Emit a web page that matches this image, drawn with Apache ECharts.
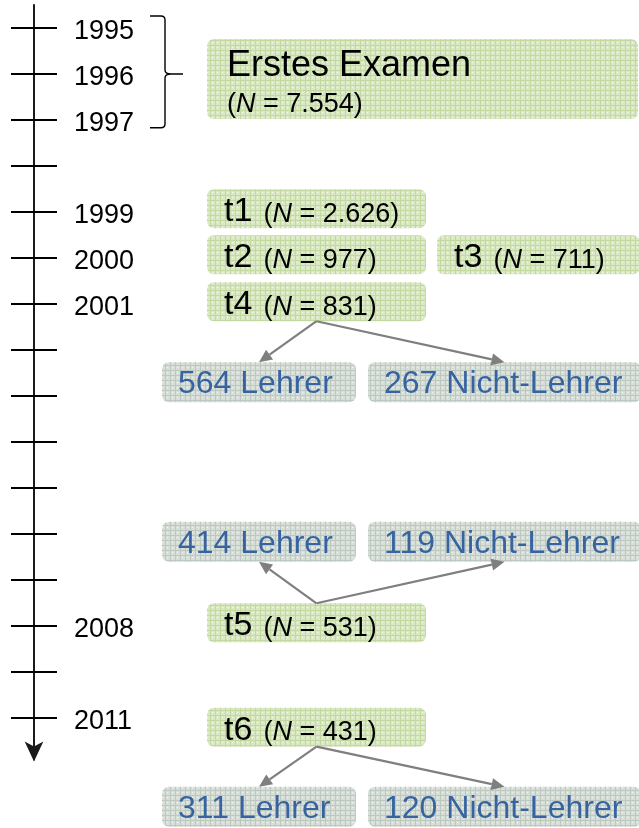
<!DOCTYPE html>
<html><head><meta charset="utf-8">
<script src="https://cdn.jsdelivr.net/npm/echarts@6/dist/echarts.min.js"></script>
<style>html,body{margin:0;padding:0;background:#fff}#c{width:639px;height:828px}</style>
</head><body><div id="c"></div>
<script>
// ---------- data ----------
const tickLabels = ['1995','1996','1997','','1999','2000','2001','','','','','','','2008','','2011'];
const firstExamTitle = 'Erstes Examen';
const firstExamN = '7.554';
const waveNames = ['t1','t2','t3','t4','t5','t6'];
const waveN = ['2.626','977','711','831','531','431'];
const splitSource = [3, 4, 5];          // index into waveNames (t4, t5, t6)
const lehrerN = [564, 414, 311];
const nichtLehrerN = [267, 119, 120];

// ---------- layout (positions / sizes / styles) ----------
const FONT = '"Liberation Sans", Arial, sans-serif';
const tickIndex = tickLabels.map((_, i) => i);
const layout = {
  firstExam: {row: 1.11, x0: 173, x1: 604, h: 80},
  waveRow: [3.93, 4.93, 4.93, 5.95, 12.93, 15.2],
  waveCol: [0, 0, 1, 0, 0, 0],
  waveCols: [[173, 392], [403, 606]],
  waveH: 39,
  splitRow: [7.7, 11.17, 16.93],
  splitCols: [[128, 322], [334, 607]],
  splitH: 40,
  bracket: {top: -0.26, mid: 1, bot: 2.17, x0: 116, x1: 131, tip: 149}
};

function makePattern(base, line, dot) {
  const c = document.createElement('canvas');
  c.width = 5; c.height = 5;
  const g = c.getContext('2d');
  g.fillStyle = base; g.fillRect(0, 0, 5, 5);
  g.fillStyle = line; g.fillRect(0, 0, 5, 1); g.fillRect(0, 0, 1, 5);
  g.fillStyle = dot; g.fillRect(2, 2, 1, 1);
  return {image: c, repeat: 'repeat'};
}
const greenFill = makePattern('#dae8c6', '#c2d9a0', '#f6faf0');
const blueFill = makePattern('#d8dfd9', '#bdc8c0', '#f3f5f3');
const blueText = '#3764a0';
const arrowColor = '#7f7f7f';

function boxRect(api, x0, x1, row, h) {
  const p0 = api.coord([x0, row]);
  const p1 = api.coord([x1, row]);
  return {x: p0[0], y: p0[1] - h / 2, width: p1[0] - p0[0], height: h, r: 7};
}
const nRich = {
  a: {fontSize: 34, fontFamily: FONT, fill: '#000', verticalAlign: 'bottom'},
  p: {fontSize: 27, fontFamily: FONT, fill: '#000', verticalAlign: 'bottom', padding: [0, 0, 1, 0]},
  i: {fontSize: 27, fontFamily: FONT, fontStyle: 'italic', fill: '#000', verticalAlign: 'bottom', padding: [0, 0, 1, 0]},
  s: {fontSize: 20, fontFamily: FONT, fill: '#000', verticalAlign: 'bottom'}
};
function nText(n) { return '{p|(}{i|N}{p| = ' + n + ')}'; }

function greenItem(params, api) {
  const i = api.value(0);
  if (i === 0) {
    const L = layout.firstExam;
    const s = boxRect(api, L.x0, L.x1, L.row, L.h);
    return {type: 'group', children: [
      {type: 'rect', shape: s, style: {fill: greenFill}},
      {type: 'text', x: s.x + 20, y: s.y + 27, style: {text: firstExamTitle, font: '36px ' + FONT, fill: '#000', verticalAlign: 'middle'}},
      {type: 'text', x: s.x + 20, y: s.y + 66, style: {text: nText(firstExamN), rich: nRich, verticalAlign: 'middle'}}
    ]};
  }
  const w = i - 1;
  const col = layout.waveCols[layout.waveCol[w]];
  const s = boxRect(api, col[0], col[1], layout.waveRow[w], layout.waveH);
  return {type: 'group', children: [
    {type: 'rect', shape: s, style: {fill: greenFill}},
    {type: 'text', x: s.x + 17, y: s.y + s.height / 2 + 3, style: {text: '{a|' + waveNames[w] + '}{s|  }' + nText(waveN[w]), rich: nRich, verticalAlign: 'middle', font: '24px ' + FONT}}
  ]};
}

function blueItem(params, api) {
  const k = api.value(0);
  const side = api.value(1);
  const col = layout.splitCols[side];
  const s = boxRect(api, col[0], col[1], layout.splitRow[k], layout.splitH);
  const txt = side === 0 ? lehrerN[k] + ' Lehrer' : nichtLehrerN[k] + ' Nicht-Lehrer';
  return {type: 'group', children: [
    {type: 'rect', shape: s, style: {fill: blueFill}},
    {type: 'text', x: s.x + 16, y: s.y + s.height / 2 + 2, style: {text: txt, font: '32px ' + FONT, fill: blueText, verticalAlign: 'middle'}}
  ]};
}

function arrowItem(params, api) {
  const k = api.value(0);
  const side = api.value(1);
  const w = splitSource[k];
  const wc = layout.waveCols[layout.waveCol[w]];
  const wRow = layout.waveRow[w];
  const sRow = layout.splitRow[k];
  const down = sRow > wRow;
  const src = api.coord([(wc[0] + wc[1]) / 2, wRow]);
  src[1] += (down ? 1 : -1) * layout.waveH / 2;
  const sc = layout.splitCols[side];
  const dst = api.coord([(sc[0] + sc[1]) / 2, sRow]);
  dst[1] += (down ? -1 : 1) * layout.splitH / 2;
  const dx = dst[0] - src[0], dy = dst[1] - src[1];
  const len = Math.sqrt(dx * dx + dy * dy);
  const ux = dx / len, uy = dy / len;
  const hl = 13, hw = 6;
  const bx = dst[0] - ux * hl, by = dst[1] - uy * hl;
  return {type: 'group', children: [
    {type: 'line', shape: {x1: src[0], y1: src[1], x2: bx, y2: by}, style: {stroke: arrowColor, lineWidth: 2.2}},
    {type: 'polygon', shape: {points: [[dst[0], dst[1]], [bx - uy * hw, by + ux * hw], [bx + uy * hw, by - ux * hw]]}, style: {fill: arrowColor}}
  ]};
}

function bracketItem(params, api) {
  const B = layout.bracket;
  const t = api.coord([B.x0, B.top]);
  const m = api.coord([B.x1, B.mid]);
  const b = api.coord([B.x0, B.bot]);
  const tip = api.coord([B.tip, B.mid]);
  const xv = m[0], r = 4;
  const path = 'M' + t[0] + ' ' + t[1] + ' L' + (xv - r) + ' ' + t[1] + ' Q' + xv + ' ' + t[1] + ' ' + xv + ' ' + (t[1] + r) +
    ' L' + xv + ' ' + (m[1] - r) + ' Q' + xv + ' ' + m[1] + ' ' + (xv + r + 2) + ' ' + m[1] + ' L' + tip[0] + ' ' + m[1] +
    ' M' + (xv + r + 2) + ' ' + m[1] + ' Q' + xv + ' ' + m[1] + ' ' + xv + ' ' + (m[1] + r) +
    ' L' + xv + ' ' + (b[1] - r) + ' Q' + xv + ' ' + b[1] + ' ' + (xv - r) + ' ' + b[1] + ' L' + b[0] + ' ' + b[1];
  return {type: 'path', shape: {pathData: path}, style: {stroke: '#000', lineWidth: 1.4, fill: 'none'}};
}

const chart = echarts.init(document.getElementById('c'), null, {renderer: 'canvas'});
const yBase = {type: 'value', min: -0.5, max: 15.9, inverse: true, position: 'left', splitLine: {show: false}};
chart.setOption({
  animation: false,
  backgroundColor: '#fff',
  grid: {left: 34, right: 0, top: 5, height: 754.4, containLabel: false},
  xAxis: {type: 'value', min: 0, max: 605, show: false},
  yAxis: [
    Object.assign({}, yBase, {
      axisLine: {show: true, symbol: ['arrow', 'none'], symbolSize: [14, 20], symbolOffset: [-2, 0], lineStyle: {color: '#1a1a1a', width: 2}},
      axisTick: {show: true, inside: false, length: 23, customValues: tickIndex, lineStyle: {color: '#000', width: 2}},
      axisLabel: {show: true, inside: true, margin: 40, customValues: tickIndex, formatter: v => tickLabels[v] || '',
        fontFamily: FONT, fontSize: 27, color: '#000', align: 'left', verticalAlign: 'top', lineHeight: 8}
    }),
    Object.assign({}, yBase, {
      axisLine: {show: false},
      axisTick: {show: true, inside: true, length: 23, customValues: tickIndex, lineStyle: {color: '#000', width: 2}},
      axisLabel: {show: false}
    })
  ],
  series: [
    {type: 'custom', name: 'bracket', renderItem: bracketItem, data: [[0, 0]], clip: false, silent: true},
    {type: 'custom', name: 'waves', renderItem: greenItem, data: [0, 1, 2, 3, 4, 5, 6].map(i => [i, 0]), clip: false, silent: true},
    {type: 'custom', name: 'groups', renderItem: blueItem, data: [[0, 0], [0, 1], [1, 0], [1, 1], [2, 0], [2, 1]], clip: false, silent: true},
    {type: 'custom', name: 'arrows', renderItem: arrowItem, data: [[0, 0], [0, 1], [1, 0], [1, 1], [2, 0], [2, 1]], clip: false, silent: true}
  ]
});
</script></body></html>
